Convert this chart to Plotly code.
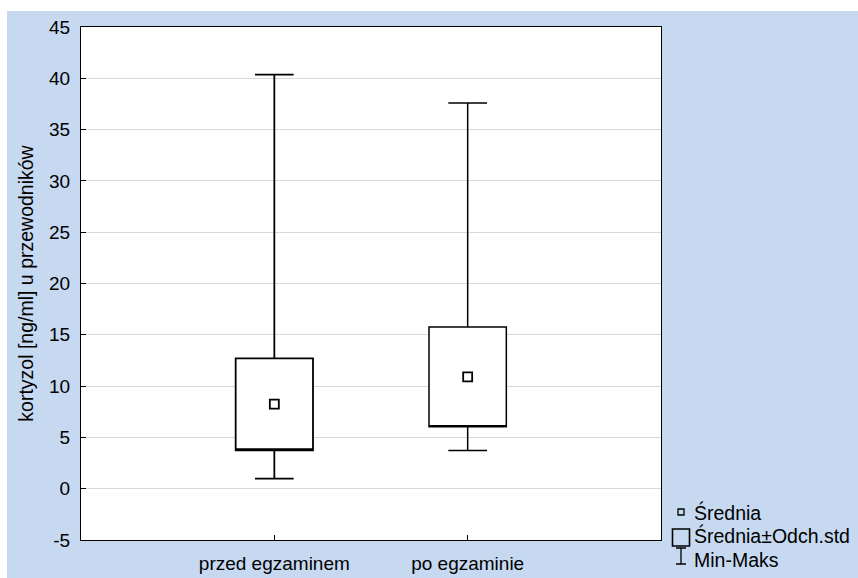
import plotly.graph_objects as go

# ---- data ----
categories = ["przed egzaminem", "po egzaminie"]
means = [8.25, 10.9]
sd_low = [3.75, 6.05]      # mean - SD
sd_high = [12.7, 15.75]    # mean + SD
mins = [0.98, 3.72]
maxs = [40.35, 37.6]
y_ticks = [-5, 0, 5, 10, 15, 20, 25, 30, 35, 40, 45]
y_tick_text = ["-5", "0", "5", "10", "15", "20", "25", "30", "35", "40", "45"]
legend_labels = ["Średnia", "Średnia±Odch.std", "Min-Maks"]
y_title = "kortyzol [ng/ml] u przewodników"

# ---- layout constants ----
W, H = 858, 578
ML, MR, MT, MB = 81, 0, 27, 0
PW, PH = W - ML - MR, H - MT - MB
def fx(px):
    return (px - ML) / PW
def fy(py):
    return (H - MB - py) / PH

FONT = "Liberation Sans, Arial, sans-serif"
FS = 19
BLUE = "#C6D9F1"

fig = go.Figure()

line_widths = [1.8, 1.5]
for i, cat in enumerate(categories):
    fig.add_trace(go.Box(
        x=[cat],
        q1=[sd_low[i]], median=[sd_low[i]], q3=[sd_high[i]],
        lowerfence=[mins[i]], upperfence=[maxs[i]],
        width=0.4, whiskerwidth=0.5,
        fillcolor="white",
        line=dict(color="black", width=line_widths[i]),
        boxpoints=False, showlegend=False, hoverinfo="skip",
        xaxis="x", yaxis="y",
    ))

fig.add_trace(go.Scatter(
    x=categories, y=means, mode="markers",
    marker=dict(symbol="square-open", size=9, color="black", line=dict(width=1.8)),
    showlegend=False, xaxis="x", yaxis="y",
))

# ---- legend drawn in a small helper subplot (pixel units) ----
icon_x = 681
icon_y = [512, 537.5, 556]
text_x = 694
text_y = [515, 538.5, 562]
fig.add_trace(go.Scatter(
    x=[icon_x], y=[icon_y[0]], mode="markers",
    marker=dict(symbol="square-open", size=6, color="black", line=dict(width=1.3)),
    showlegend=False, xaxis="x2", yaxis="y2", hoverinfo="skip",
))
fig.add_trace(go.Scatter(
    x=[icon_x], y=[icon_y[1]], mode="markers",
    marker=dict(symbol="square-open", size=17, color="black", line=dict(width=1.6)),
    showlegend=False, xaxis="x2", yaxis="y2", hoverinfo="skip",
))
fig.add_trace(go.Scatter(
    x=[icon_x], y=[icon_y[2]], mode="markers",
    marker=dict(size=1, color="rgba(0,0,0,0)"),
    error_y=dict(type="constant", value=8, width=5, thickness=1.3, color="black"),
    showlegend=False, xaxis="x2", yaxis="y2", hoverinfo="skip",
))
fig.add_trace(go.Scatter(
    x=[text_x] * 3, y=text_y, mode="text", text=legend_labels,
    textposition="middle right",
    textfont=dict(family=FONT, size=19.5, color="black"),
    showlegend=False, xaxis="x2", yaxis="y2", hoverinfo="skip",
))

fig.update_layout(
    template="none",
    width=W, height=H,
    margin=dict(l=ML, r=MR, t=MT, b=MB, pad=0, autoexpand=False),
    paper_bgcolor="white",
    plot_bgcolor="rgba(0,0,0,0)",
    font=dict(family=FONT, size=FS, color="black"),
    boxmode="overlay",
    showlegend=False,
    xaxis=dict(
        domain=[0, fx(661)], anchor="y", automargin=False,
        type="category", categoryorder="array", categoryarray=categories,
        range=[-1, 2],
        showgrid=False, zeroline=False,
        showline=True, linecolor="black", linewidth=1, mirror=True,
        ticks="inside", ticklen=5, tickcolor="black",
        ticklabelstandoff=6,
        tickfont=dict(size=FS),
    ),
    yaxis=dict(
        domain=[fy(540), 1], anchor="x", automargin=False,
        range=[-5, 45], tickvals=y_ticks, ticktext=y_tick_text,
        showgrid=True, gridcolor="#D9D9D9", gridwidth=1,
        zeroline=False,
        showline=True, linecolor="black", linewidth=1, mirror=True,
        ticks="inside", ticklen=5, tickcolor="black",
        ticklabelstandoff=6,
        title=dict(text=y_title, font=dict(size=19.5), standoff=10),
    ),
    xaxis2=dict(domain=[fx(660), 1], anchor="y2", range=[660, 858],
                visible=False, fixedrange=True, automargin=False),
    yaxis2=dict(domain=[0, fy(500)], anchor="x2", range=[578, 500],
                visible=False, fixedrange=True, automargin=False),
    shapes=[
        dict(type="rect", xref="paper", yref="paper",
             x0=fx(7), x1=1, y0=0, y1=fy(11),
             fillcolor=BLUE, line=dict(width=0), layer="below"),
        dict(type="rect", xref="x domain", yref="y domain",
             x0=0, x1=1, y0=0, y1=1,
             fillcolor="white", line=dict(width=0), layer="below"),
    ],
)

fig.write_html("out.html")
